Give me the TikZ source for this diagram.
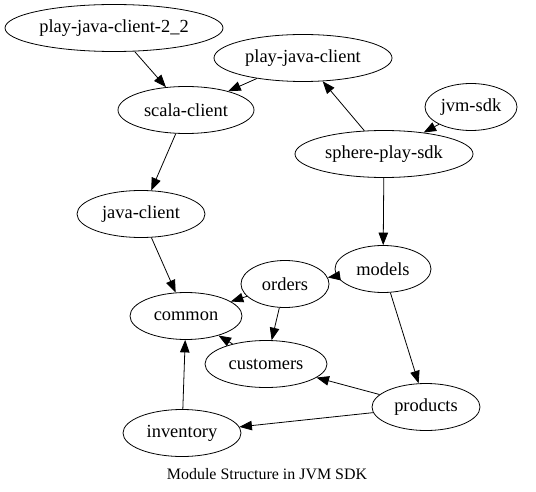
\documentclass[tikz,border=0pt]{standalone}
\usepackage{fontspec}
\setmainfont{Liberation Serif}
\usetikzlibrary{arrows.meta,shapes.geometric}

\begin{document}
\begin{tikzpicture}[x=1bp, y=-1bp,
    module/.style={draw, ellipse, line width=0.8pt, inner sep=0pt,
      font=\fontsize{18.5}{20}\selectfont, minimum height=47bp},
    dep/.style={-{Triangle[length=12.5bp,width=9.5bp]}, line width=0.8pt}]
    \useasboundingbox (0,0) rectangle (536,492);
    % Module
    \node[module, minimum width=218bp] (pjc22) at (114,28) {play-java-client-2\_2};
    \node[module, minimum width=178bp] (pjc) at (303,58) {play-java-client};
    \node[module, minimum width=136bp] (scala) at (186,110) {scala-client};
    \node[module, minimum width=92bp] (jvmsdk) at (471,107) {jvm-sdk};
    \node[module, minimum width=178bp] (sphere) at (384,154) {sphere-play-sdk};
    \node[module, minimum width=128bp] (java) at (141,214) {java-client};
    \node[module, minimum width=96bp] (models) at (383,269) {models};
    \node[module, minimum width=88bp] (orders) at (285,284) {orders};
    \node[module, minimum width=112bp] (common) at (186,316) {common};
    \node[module, minimum width=122bp] (customers) at (266,364) {customers};
    \node[module, minimum width=108bp] (products) at (426,407) {products};
    \node[module, minimum width=118bp] (inventory) at (182,433) {inventory};

    % Abhängigkeiten
    \draw[dep] (pjc22) -- (scala);
    \draw[dep] (pjc) -- (scala);
    \draw[dep] (sphere) -- (pjc);
    \draw[dep] (jvmsdk) -- (sphere);
    \draw[dep] (scala) -- (java);
    \draw[dep] (java) -- (common);
    \draw[dep] (sphere) -- (models);
    \draw[dep] (models) -- (orders);
    \draw[dep] (models) -- (products);
    \draw[dep] (orders) -- (common);
    \draw[dep] (orders) -- (customers);
    \draw[dep] (customers) -- (common);
    \draw[dep] (products) -- (customers);
    \draw[dep] (products) -- (inventory);
    \draw[dep] (inventory) -- (common);

    \node[font=\fontsize{16}{18}\selectfont] (caption) at (267,474) {Module Structure in JVM SDK};
\end{tikzpicture}
\end{document}
